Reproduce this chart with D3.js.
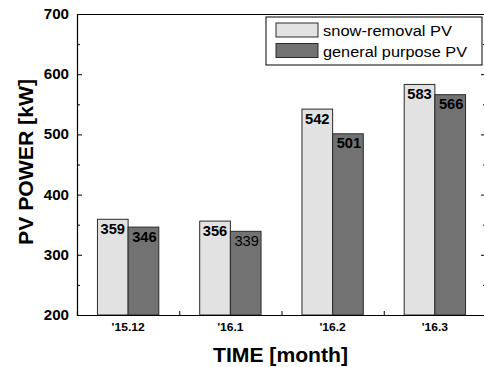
<!DOCTYPE html>
<html>
<head>
<meta charset="utf-8">
<script src="https://cdn.jsdelivr.net/npm/d3@7"></script>
<style>
  html, body { margin: 0; padding: 0; background: #fff; }
  svg { display: block; font-family: "Liberation Sans", Arial, sans-serif; }
</style>
</head>
<body>
<svg id="chart" width="484" height="367"></svg>
<script>
const categories = ["'15.12", "'16.1", "'16.2", "'16.3"];
const seriesNames = ["snow-removal PV", "general purpose PV"];
const snowRemoval = [359, 356, 542, 583];
const generalPurpose = [346, 339, 501, 566];
const labelBold = [[true, true, true, true], [true, false, true, true]];
const yTicks = [200, 300, 400, 500, 600, 700];
const yMinorTicks = [250, 350, 450, 550, 650];

const svg = d3.select("#chart");
const L = 77, R = 486, T = 14, B = 315;
const colors = ["#e2e2e2", "#727272"];

const x = d3.scaleBand().domain(categories).range([L, R]).paddingInner(0.4).paddingOuter(0.2);
const xs = d3.scaleBand().domain([0, 1]).range([0, x.bandwidth()]);
const y = d3.scaleLinear().domain([200, 700]).range([B, T]);

const series = [snowRemoval, generalPurpose];

// bars
series.forEach((vals, si) => {
  svg.append("g").selectAll("rect").data(vals).join("rect")
    .attr("x", (d, i) => x(categories[i]) + xs(si))
    .attr("y", d => y(d))
    .attr("width", xs.bandwidth())
    .attr("height", d => B - y(d))
    .attr("fill", colors[si])
    .attr("stroke", "#2a2a2a")
    .attr("stroke-width", 1);
  svg.append("g").selectAll("text").data(vals).join("text")
    .attr("transform", (d, i) => `translate(${x(categories[i]) + xs(si) + xs.bandwidth() / 2 + (si === 1 ? 1 : 0)},${y(d) + 14.5}) scale(1.05,1)`)
    .attr("text-anchor", "middle")
    .attr("font-size", 14)
    .attr("font-weight", (d, i) => labelBold[si][i] ? "bold" : "normal")
    .attr("fill", "#000")
    .text(d => d);
});

// axes
const axisG = svg.append("g");
const leftAx = d3.axisRight(y).tickValues(yTicks).tickSize(5).tickFormat("");
const rightAx = d3.axisLeft(y).tickValues(yTicks).tickSize(5).tickFormat("");
const leftMinor = d3.axisRight(y).tickValues(yMinorTicks).tickSize(3).tickFormat("");
const rightMinor = d3.axisLeft(y).tickValues(yMinorTicks).tickSize(3).tickFormat("");
axisG.append("g").attr("transform", `translate(${L},0)`).call(leftAx);
axisG.append("g").attr("transform", `translate(${L},0)`).call(leftMinor).select(".domain").remove();
axisG.append("g").attr("transform", `translate(${R},0)`).call(rightAx);
axisG.append("g").attr("transform", `translate(${R},0)`).call(rightMinor).select(".domain").remove();

// bottom axis with boundary minor ticks
const boundaries = categories.slice(1).map(c => x(c) - x.step() * x.paddingInner() / 2);
const xl = d3.scaleLinear().domain([L, R]).range([L, R]);
axisG.append("g").attr("transform", `translate(0,${B})`)
  .call(d3.axisTop(xl).tickValues(boundaries).tickSize(4).tickFormat(""));
axisG.append("g").attr("transform", `translate(0,${T})`)
  .call(d3.axisBottom(xl).tickValues([]).tickSize(0).tickFormat(""));
axisG.selectAll(".domain").attr("stroke", "#000").attr("stroke-width", 1.2);
axisG.selectAll(".tick line").attr("stroke", "#000").attr("stroke-width", 1);

// y tick labels
svg.append("g").selectAll("text").data(yTicks).join("text")
  .attr("transform", d => `translate(69,${y(d) + 5}) scale(1.08,1)`)
  .attr("text-anchor", "end")
  .attr("font-size", 14)
  .attr("font-weight", "bold")
  .text(d => d);

// x category labels
svg.append("g").selectAll("text").data(categories).join("text")
  .attr("transform", d => `translate(${x(d) + x.bandwidth() / 2},331) scale(1.05,1)`)
  .attr("text-anchor", "middle")
  .attr("font-size", 11.5)
  .attr("font-weight", "bold")
  .text(d => d);

// axis titles
svg.append("text")
  .attr("x", 213).attr("y", 362)
  .attr("font-size", 21).attr("font-weight", "bold")
  .attr("textLength", 135).attr("lengthAdjust", "spacingAndGlyphs")
  .text("TIME [month]");
svg.append("text")
  .attr("transform", `translate(33,245) rotate(-90)`)
  .attr("font-size", 21).attr("font-weight", "bold")
  .attr("textLength", 166).attr("lengthAdjust", "spacingAndGlyphs")
  .text("PV POWER [kW]");

// legend
const legendWidths = [129, 144];
const lg = svg.append("g");
lg.append("rect").attr("x", 266).attr("y", 17).attr("width", 216).attr("height", 48)
  .attr("fill", "#fff").attr("stroke", "#000").attr("stroke-width", 1);
seriesNames.forEach((name, i) => {
  lg.append("rect").attr("x", 276).attr("y", 23 + i * 20.5).attr("width", 42).attr("height", 14)
    .attr("fill", colors[i]).attr("stroke", "#2a2a2a").attr("stroke-width", 1);
  lg.append("text").attr("x", 323).attr("y", 36 + i * 20.5)
    .attr("font-size", 15.5)
    .attr("textLength", legendWidths[i]).attr("lengthAdjust", "spacingAndGlyphs")
    .text(name);
});
</script>
</body>
</html>
